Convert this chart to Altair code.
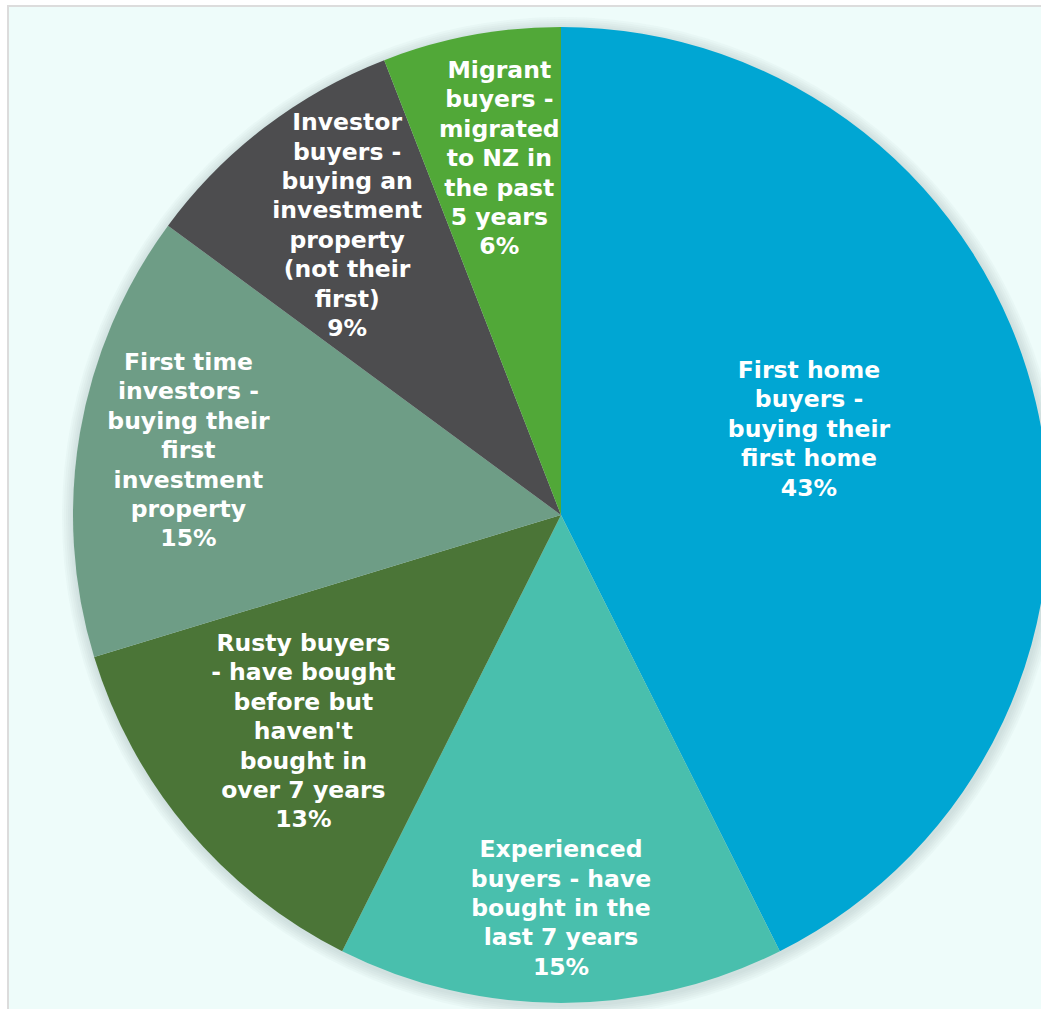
import math
import altair as alt
import pandas as pd

# ---- data ----
categories = [
    "First home\nbuyers -\nbuying their\nfirst home",
    "Experienced\nbuyers - have\nbought in the\nlast 7 years",
    "Rusty buyers\n- have bought\nbefore but\nhaven't\nbought in\nover 7 years",
    "First time\ninvestors -\nbuying their\nfirst\ninvestment\nproperty",
    "Investor\nbuyers -\nbuying an\ninvestment\nproperty\n(not their\nfirst)",
    "Migrant\nbuyers -\nmigrated\nto NZ in\nthe past\n5 years",
]
values = [42.6, 14.8, 12.9, 14.8, 9.0, 5.9]
pct_labels = ["43%", "15%", "13%", "15%", "9%", "6%"]
colors = ["#00A6D3", "#49BFAD", "#4B7537", "#6E9D86", "#4D4D4F", "#51A838"]

# layout (label distance from centre, px; extra label shifts)
label_radius = [261, 394, 337, 378, 360, 362]
label_shift = [(-6, -25), (0, 0), (0, 0), (0, 0), (5, -3), (5, 0)]

W, H = 1041, 1009
CX, CY, R = 561, 515, 488
LH = 29.4
FS = 23.5

df = pd.DataFrame({
    "cat": categories,
    "value": values,
    "pct": pct_labels,
    "idx": list(range(len(categories))),
    "lr": label_radius,
})
df["label"] = df["cat"] + "\n" + df["pct"]

total = float(sum(values))
color_scale = alt.Scale(domain=categories, range=colors)
theta_scale = alt.Scale(domain=[0, total], range=[0, 2 * math.pi])

base = alt.Chart(df)

# background frame
frame = alt.Chart(pd.DataFrame({"a": [0]})).mark_rect(
    fill="#eefcfa", stroke="#dcdcdc", strokeWidth=2
).encode(x=alt.value(8), y=alt.value(6), x2=alt.value(W + 20), y2=alt.value(H + 20))

# soft shadow
shadow_layers = []
for k in range(1, 7):
    shadow_layers.append(
        alt.Chart(pd.DataFrame({"a": [0]})).mark_arc(
            radius=R + 2 * k, theta=0, theta2=2 * math.pi, color="#8a9a9a", opacity=0.05
        ).encode(x=alt.value(CX + 1), y=alt.value(CY + 2))
    )

pie = base.mark_arc(radius=R).encode(
    theta=alt.Theta("value:Q", stack=True),
    color=alt.Color("cat:N", scale=color_scale, legend=None),
    order=alt.Order("idx:Q"),
    x=alt.value(CX),
    y=alt.value(CY),
)

text_common = dict(
    font="DejaVu Sans", fontWeight="bold", fontSize=FS, color="white",
    align="center", baseline="middle", lineBreak="\n", lineHeight=LH,
)

label_base = base.transform_window(
    cum="sum(value)", sort=[alt.SortField("idx")], frame=[None, 0]
).transform_calculate(mid="datum.cum - datum.value / 2")

label_layers = []
for i, lab in enumerate(df["label"]):
    n = lab.count("\n") + 1
    sx, sy = label_shift[i]
    label_layers.append(
        label_base.transform_filter(f"datum.idx == {i}").mark_text(
            dx=sx, dy=sy - (n - 1) / 2 * LH, **text_common
        ).encode(
            theta=alt.Theta("mid:Q", scale=theta_scale, stack=None),
            radius=alt.Radius("lr:Q", scale=None),
            text="label:N",
            x=alt.value(CX),
            y=alt.value(CY),
        )
    )

chart = alt.layer(frame, *shadow_layers, pie, *label_layers).properties(
    width=W, height=H, padding=0, autosize=alt.AutoSizeParams(type="none"),
    background="#ffffff",
).configure_view(stroke="transparent")

chart.save("out.html", embed_options={"renderer": "svg", "actions": False})
